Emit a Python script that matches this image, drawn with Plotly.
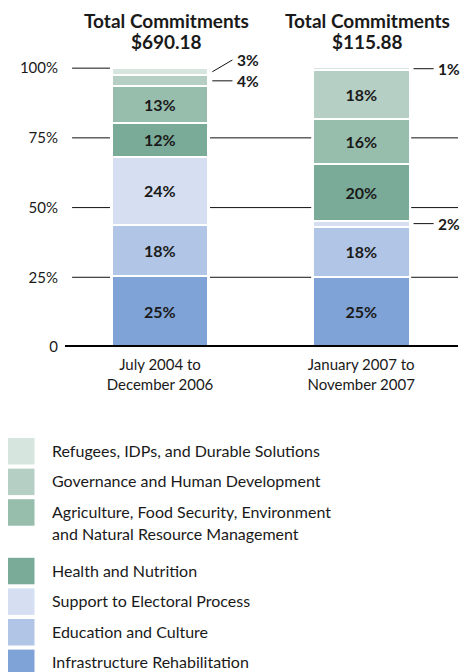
import plotly.graph_objects as go

# ---------------- data ----------------
periods = ["July 2004 to<br>December 2006", "January 2007 to<br>November 2007"]
totals = ["$690.18", "$115.88"]
sectors = [
    "Infrastructure Rehabilitation",
    "Education and Culture",
    "Support to Electoral Process",
    "Health and Nutrition",
    "Agriculture, Food Security, Environment<br>and Natural Resource Management",
    "Governance and Human Development",
    "Refugees, IDPs, and Durable Solutions",
]
share_2004_2006 = [25.4, 18.3, 24.4, 12.2, 13.2, 3.9, 2.6]
share_2007 = [25.1, 18.1, 2.1, 20.2, 16.1, 17.6, 1.2]
colors = ["#7fa3d6", "#b1c5e6", "#d5dff1", "#7aab98", "#97bdad", "#b6cfc4", "#d6e6df"]
y_tickvals = [0, 25, 50, 75, 100]
y_ticktext = ["0", "25%", "50%", "75%", "100%"]

# ---------------- layout constants ----------------
W, H = 464, 672
ML, MR, MT, MB = 65, 6, 57, 325
PW, PH = W - ML - MR, H - MT - MB
Y_MAX = 104
X0, X1 = -0.4722, 1.4811
BAR_W = 0.482
FONT = "Lato"
INK = "#1a1a1a"
xs = [0, 1]
series = [share_2004_2006, share_2007]


def px_x(px):
    return (px - ML) / PW


def px_y(py):
    return (H - MB - py) / PH


fig = go.Figure()
for i, name in enumerate(sectors):
    vals = [series[0][i], series[1][i]]
    fig.add_trace(go.Bar(
        x=xs, y=vals, width=BAR_W, name=name.replace("<br>", " "),
        marker=dict(color=colors[i], line=dict(color="white", width=2.5)),
        text=[f"<b>{v:.0f}%</b>" if v >= 10 else "" for v in vals],
        textposition="inside", insidetextanchor="middle", textangle=0,
        textfont=dict(family=FONT, size=16, color=INK),
        hoverinfo="skip", showlegend=False,
    ))

shapes = []
annotations = []

# gridlines (segments between bars)
half_gap = 0.2485
for lv in [25, 50, 75, 100]:
    segs = [(-0.437, xs[0] - half_gap)]
    if lv < 100:
        segs += [(xs[0] + half_gap, xs[1] - half_gap), (xs[1] + half_gap, X1)]
    for a, b in segs:
        shapes.append(dict(type="line", xref="x", yref="y", x0=a, x1=b, y0=lv, y1=lv,
                           line=dict(color="#111", width=1), layer="below"))

# baseline
shapes.append(dict(type="line", xref="paper", yref="y", x0=0, x1=1, y0=0, y1=0,
                   line=dict(color="black", width=4), layer="above"))

# small outside labels with leaders
for b, vals in enumerate(series):
    cum = 0
    last = -100
    for v in vals:
        mid = cum + v / 2
        cum += v
        if v >= 10:
            continue
        ly = max(mid, last + 7.5)
        last = ly
        c = xs[b]
        shapes.append(dict(type="line", xref="x", yref="y", x0=c + 0.26, x1=c + 0.36,
                           y0=mid, y1=ly, line=dict(color="#111", width=1)))
        annotations.append(dict(x=c + 0.372, y=ly, xref="x", yref="y", xanchor="left",
                                yanchor="middle", showarrow=False, text=f"<b>{v:.0f}%</b>",
                                font=dict(family=FONT, size=15.5, color=INK)))

# titles
for b in range(2):
    annotations.append(dict(x=xs[b] + 0.03, y=px_y(20.5), xref="x", yref="paper",
                            text="<b>Total Commitments</b>", showarrow=False,
                            xanchor="center", yanchor="middle",
                            font=dict(family=FONT, size=19, color=INK)))
    annotations.append(dict(x=xs[b] + 0.03, y=px_y(41.5), xref="x", yref="paper",
                            text=f"<b>{totals[b]}</b>", showarrow=False,
                            xanchor="center", yanchor="middle",
                            font=dict(family=FONT, size=19, color=INK)))

# manual legend (top to bottom)
top = 438
SQ = 26.5
for i in reversed(range(len(sectors))):
    name = sectors[i]
    shapes.append(dict(type="rect", xref="paper", yref="paper",
                       x0=px_x(8), x1=px_x(8 + SQ), y0=px_y(top), y1=px_y(top + SQ),
                       fillcolor=colors[i], line=dict(width=0)))
    lines = name.split("<br>")
    for j, ln in enumerate(lines):
        annotations.append(dict(x=px_x(50), y=px_y(top + SQ / 2 - 1 + j * 22.3), xref="paper",
                                yref="paper", xanchor="left", yanchor="middle",
                                showarrow=False, text=ln,
                                font=dict(family=FONT, size=16, color=INK)))
    top += 30.6 + (28 if len(lines) > 1 else 0)

fig.update_layout(
    width=W, height=H,
    margin=dict(l=ML, r=MR, t=MT, b=MB, pad=0),
    barmode="stack", bargap=0,
    paper_bgcolor="white", plot_bgcolor="white",
    font=dict(family=FONT, color=INK),
    showlegend=False,
    shapes=shapes, annotations=annotations,
    xaxis=dict(range=[X0, X1], tickvals=xs, ticktext=periods, showgrid=False,
               zeroline=False, showline=False, ticks="", fixedrange=True,
               ticklabelstandoff=7,
               tickfont=dict(family=FONT, size=15, color=INK)),
    yaxis=dict(range=[0, Y_MAX], tickvals=y_tickvals, ticktext=y_ticktext,
               showgrid=False, zeroline=False, showline=False, ticks="",
               ticklabelstandoff=6, fixedrange=True,
               tickfont=dict(family=FONT, size=15, color=INK)),
)

fig.write_html("out.html", config={"displayModeBar": False},
               post_script="document.body.style.margin='0';document.body.style.overflow='hidden';")
